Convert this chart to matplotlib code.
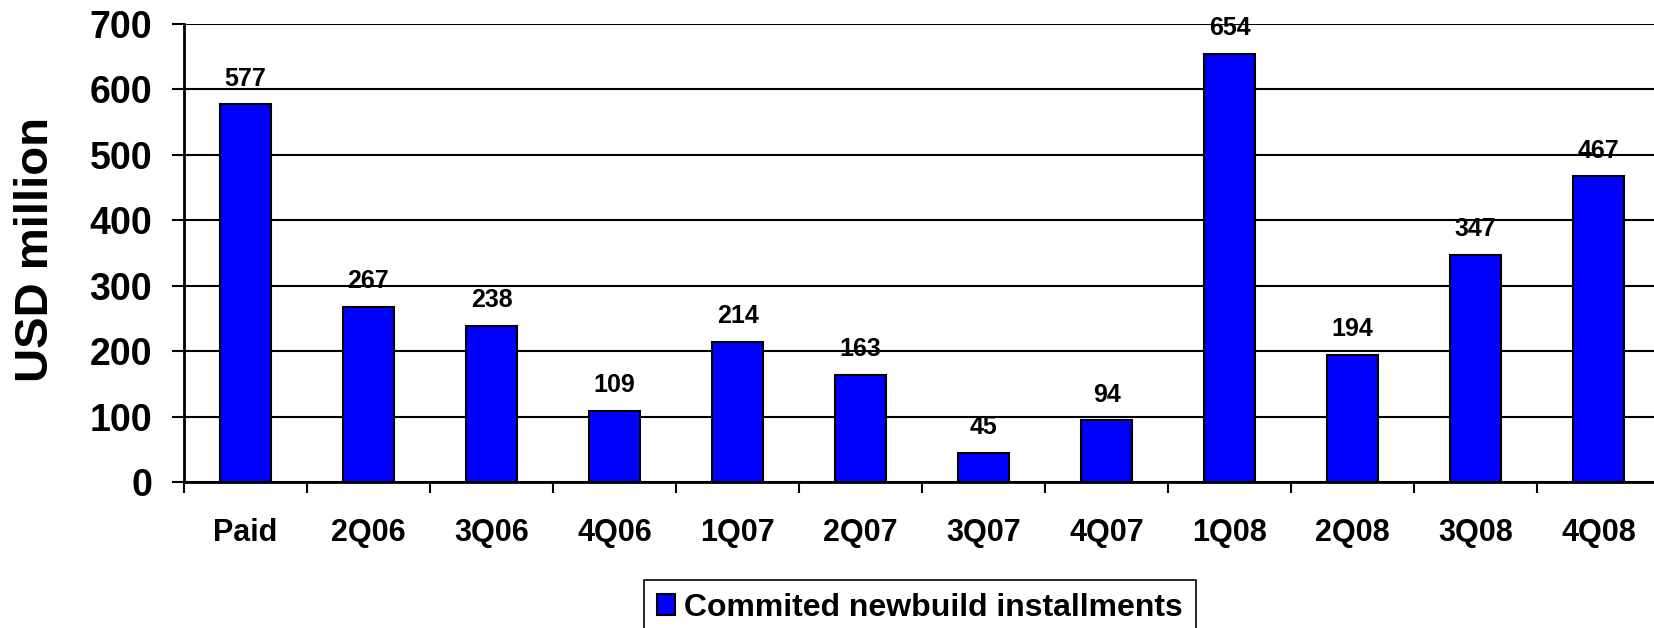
import matplotlib
matplotlib.use("Agg")
import matplotlib.pyplot as plt
import numpy as np

plt.rcParams['font.family'] = ['Liberation Sans', 'DejaVu Sans']
plt.rcParams['font.weight'] = 'bold'

# quarters and committed newbuild installments (USD million)
quarters = ["Paid", "2Q06", "3Q06", "4Q06", "1Q07", "2Q07",
            "3Q07", "4Q07", "1Q08", "2Q08", "3Q08", "4Q08"]
installments = [577, 267, 238, 109, 214, 163, 45, 94, 654, 194, 347, 467]
y_ticks = [0, 100, 200, 300, 400, 500, 600, 700]
legend_label = "Commited newbuild installments"


def main():
	fig = plt.figure(figsize=(16.54, 6.28), dpi=100)
	ax = fig.add_axes([184 / 1654, 1 - 482 / 628, 1476 / 1654, 458 / 628])

	x = np.arange(len(quarters))
	bars = ax.bar(x, installments, width=0.41, color="#0000FF",
		edgecolor="black", linewidth=1.5, zorder=3, label=legend_label)

	""" value labels above each bar """
	for xi, v in zip(x, installments):
		ax.annotate(str(v), (xi, v), xytext=(0, 10), textcoords="offset points",
			ha="center", va="bottom", fontsize=18, fontweight="bold")

	ax.set_ylim(0, 700)
	ax.set_xlim(-0.5, len(quarters) - 0.5)
	ax.set_yticks(y_ticks)
	ax.set_yticklabels([str(t) for t in y_ticks], fontsize=27, fontweight="bold")
	ax.tick_params(axis="y", length=9, width=1.5, pad=14)

	# labels in the middle, tick marks on the category borders
	ax.set_xticks(x)
	ax.set_xticklabels(quarters, fontsize=22, fontweight="bold")
	ax.tick_params(axis="x", which="major", length=0, pad=26)
	ax.set_xticks(np.arange(-0.5, len(quarters), 1.0), minor=True)
	ax.tick_params(axis="x", which="minor", length=8, width=1.5, direction="out")

	ax.yaxis.grid(True, color="black", linewidth=1.5, zorder=0)
	ax.set_axisbelow(True)
	for s in ["top", "right"]:
		ax.spines[s].set_visible(False)
	ax.spines["left"].set_linewidth(2)
	ax.spines["bottom"].set_linewidth(2)

	fig.text(36 / 1654, 1 - 250 / 628, "USD million", rotation=90,
		ha="center", va="center", fontsize=34, fontweight="bold")

	leg = fig.legend(handles=[bars], labels=[legend_label], loc="upper center",
		bbox_to_anchor=(920 / 1654, 1 - 580 / 628), fontsize=23,
		frameon=True, fancybox=False, edgecolor="black", framealpha=1,
		handlelength=0.55, handleheight=0.6, handletextpad=0.3,
		borderpad=0.4, borderaxespad=0)
	leg.get_frame().set_linewidth(1.2)
	for t in leg.get_texts():
		t.set_fontweight("bold")

	fig.savefig("out.png", dpi=100)


if __name__ == '__main__':
	main()
